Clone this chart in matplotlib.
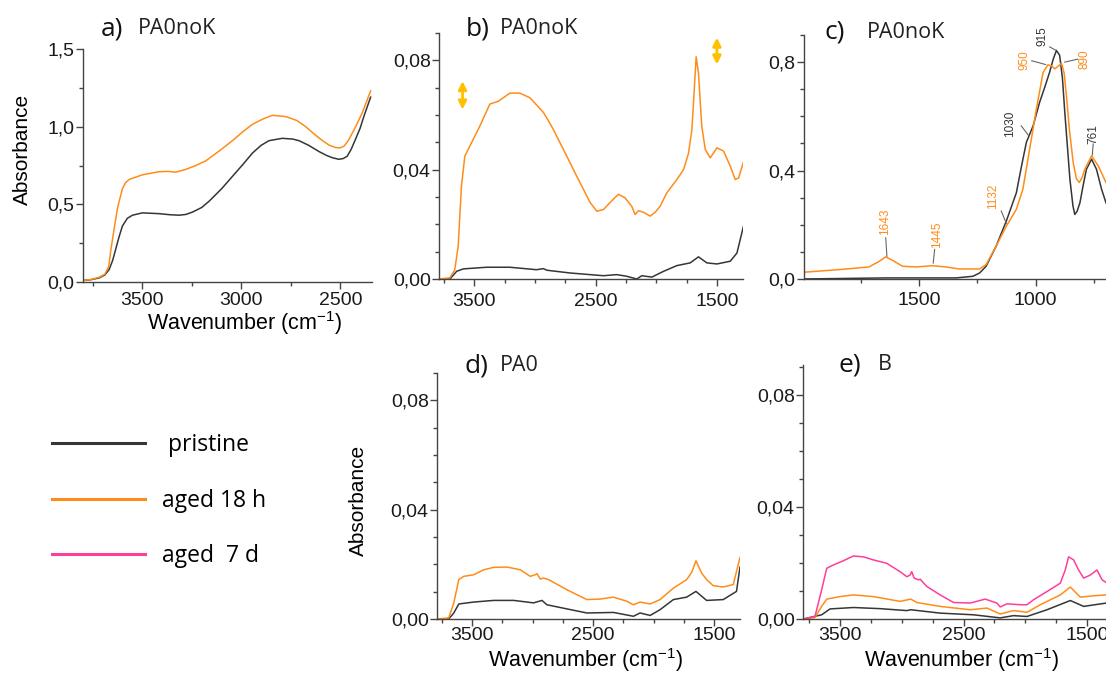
import matplotlib
matplotlib.use("Agg")
from matplotlib import pyplot as plt
from matplotlib.ticker import MultipleLocator, FuncFormatter

# colours
c_pristine = "#363636"
c_18h = "#ff8c1a"
c_7d = "#ff3d9a"
c_arrow = "#ffc000"
c_lead = "#666666"

# ---------------- data ----------------
# a) PA0noK, high wavenumber range
a_wn_pristine = [3803, 3760, 3719, 3690, 3668, 3650, 3635, 3618, 3601, 3576, 3550, 3500, 3416,
                 3360, 3315, 3280, 3247, 3200, 3163, 3100, 3045, 2990, 2944, 2900, 2860, 2793,
                 2740, 2709, 2660, 2608, 2570, 2540, 2508, 2485, 2465, 2445, 2423, 2400, 2380,
                 2347]
a_abs_pristine = [0.01, 0.015, 0.026, 0.045, 0.08, 0.14, 0.21, 0.29, 0.36, 0.41, 0.43, 0.445,
                  0.44, 0.433, 0.43, 0.435, 0.45, 0.48, 0.52, 0.60, 0.68, 0.76, 0.83, 0.88, 0.91,
                  0.925, 0.92, 0.91, 0.88, 0.84, 0.815, 0.80, 0.79, 0.795, 0.81, 0.855, 0.92,
                  0.99, 1.07, 1.19]
a_wn_18h = [3803, 3760, 3719, 3690, 3670, 3660, 3643, 3625, 3601, 3585, 3567, 3500, 3416, 3370,
            3332, 3281, 3230, 3180, 3110, 3045, 2990, 2944, 2890, 2843, 2776, 2720, 2675, 2630,
            2590, 2555, 2522, 2500, 2481, 2460, 2439, 2415, 2389, 2347]
a_abs_18h = [0.01, 0.016, 0.03, 0.05, 0.10, 0.20, 0.34, 0.48, 0.60, 0.64, 0.66, 0.69, 0.71, 0.712,
             0.707, 0.725, 0.75, 0.78, 0.845, 0.91, 0.97, 1.015, 1.05, 1.073, 1.065, 1.04, 1.0,
             0.95, 0.91, 0.88, 0.865, 0.864, 0.875, 0.91, 0.96, 1.02, 1.09, 1.23]

# b) PA0noK, full range
b_wn_pristine = [3792, 3700, 3645, 3590, 3398, 3206, 2986, 2931, 2900, 2710, 2435, 2325, 2243,
                 2160, 2119, 2036, 1940, 1830, 1720, 1652, 1583, 1500, 1390, 1335, 1280]
b_abs_pristine = [0.0, 0.0, 0.0028, 0.0037, 0.0043, 0.0043, 0.0034, 0.0038, 0.0032, 0.0022, 0.0012,
                  0.0016, 0.001, 0.0, 0.0012, 0.0007, 0.0028, 0.0049, 0.0059, 0.0081, 0.0059,
                  0.0055, 0.0065, 0.0095, 0.0195]
b_wn_18h = [3792, 3701, 3660, 3632, 3605, 3577, 3536, 3453, 3371, 3302, 3206, 3123, 3041, 2972,
            2931, 2890, 2848, 2765, 2655, 2545, 2490, 2435, 2380, 2312, 2257, 2202, 2174, 2147,
            2105, 2050, 2009, 1968, 1913, 1830, 1775, 1734, 1706, 1687, 1671, 1652, 1625, 1596,
            1555, 1500, 1445, 1390, 1349, 1321, 1280]
b_abs_18h = [0.0, 0.0004, 0.0034, 0.012, 0.034, 0.045, 0.0486, 0.056, 0.064, 0.065, 0.068, 0.068,
             0.0663, 0.063, 0.061, 0.058, 0.0547, 0.0474, 0.0376, 0.028, 0.0248, 0.0254, 0.028,
             0.031, 0.0297, 0.0266, 0.0236, 0.025, 0.0244, 0.023, 0.0244, 0.0266, 0.0315, 0.0364,
             0.040, 0.046, 0.0547, 0.069, 0.0813, 0.0755, 0.056, 0.0474, 0.0443, 0.048, 0.0468,
             0.0413, 0.0364, 0.037, 0.043]

# c) PA0noK, fingerprint region
c_wn_pristine = [2000, 1644, 1342, 1270, 1241, 1213, 1170, 1126, 1083, 1060, 1040, 1011, 983,
                 960, 940, 925, 911, 897, 885, 875, 853, 840, 832, 822, 810, 795, 782, 760, 739,
                 717, 698]
c_abs_pristine = [0.0, 0.004, 0.004, 0.01, 0.022, 0.047, 0.121, 0.214, 0.318, 0.42, 0.504, 0.565,
                  0.652, 0.71, 0.763, 0.81, 0.843, 0.825, 0.74, 0.615, 0.368, 0.27, 0.238, 0.25,
                  0.281, 0.35, 0.405, 0.442, 0.405, 0.331, 0.281]
c_wn_18h = [2000, 1845, 1716, 1672, 1644, 1615, 1572, 1514, 1443, 1385, 1328, 1241, 1213, 1170,
            1126, 1083, 1055, 1026, 997, 968, 947, 930, 918, 903, 889, 878, 868, 855, 839, 825,
            813, 800, 789, 760, 731, 698]
c_abs_18h = [0.0247, 0.0346, 0.0444, 0.065, 0.0815, 0.069, 0.047, 0.0444, 0.049, 0.0444, 0.037,
             0.037, 0.053, 0.121, 0.195, 0.257, 0.331, 0.479, 0.627, 0.763, 0.79, 0.785, 0.775,
             0.785, 0.796, 0.76, 0.677, 0.55, 0.43, 0.37, 0.356, 0.375, 0.405, 0.454, 0.417,
             0.356]

# peak labels of panel c
c_peak_labels = ["1643", "1445", "1132", "1030", "950", "915", "890", "761"]
c_peak_colors = [c_18h, c_18h, c_18h, c_pristine, c_18h, c_pristine, c_18h, c_pristine]
c_label_x = [1648, 1425, 1181, 1112, 1050, 970, 789, 754]
c_label_y = [0.211, 0.164, 0.306, 0.574, 0.806, 0.896, 0.811, 0.533]
c_lead_from = [(1644, 0.152), (1434, 0.109), (1148, 0.251), (1062, 0.565), (1017, 0.805),
               (940, 0.856), (819, 0.811), (753, 0.498)]
c_lead_to = [(1639, 0.084), (1440, 0.059), (1126, 0.205), (1032, 0.531), (957, 0.791),
             (914, 0.844), (875, 0.800), (757, 0.457)]

# d) PA0
d_wn_pristine = [3789, 3693, 3651, 3610, 3486, 3321, 3156, 2991, 2922, 2881, 2716, 2551, 2331,
                 2166, 2111, 2028, 1946, 1836, 1726, 1649, 1561, 1424, 1314, 1285]
d_abs_pristine = [0.0, 0.0, 0.0022, 0.0055, 0.0062, 0.0068, 0.0068, 0.0059, 0.0068, 0.0052,
                  0.0037, 0.0022, 0.0024, 0.001, 0.0022, 0.0013, 0.0034, 0.0071, 0.008, 0.0101,
                  0.0068, 0.0071, 0.0101, 0.019]
d_wn_18h = [3789, 3693, 3651, 3610, 3569, 3486, 3404, 3321, 3211, 3101, 3019, 2977, 2964, 2936,
            2909, 2867, 2716, 2551, 2441, 2331, 2221, 2166, 2111, 2028, 1946, 1836, 1726, 1684,
            1649, 1602, 1561, 1506, 1424, 1341, 1285]
d_abs_18h = [0.0, 0.0004, 0.0059, 0.0144, 0.0156, 0.0162, 0.018, 0.0189, 0.019, 0.018, 0.0156,
             0.0162, 0.0166, 0.0146, 0.015, 0.0144, 0.0107, 0.0071, 0.0073, 0.008, 0.0065, 0.0052,
             0.0062, 0.0055, 0.0071, 0.0113, 0.0144, 0.0171, 0.0213, 0.0168, 0.0144, 0.0122,
             0.0117, 0.0126, 0.0225]

# e) B
e_wn_pristine = [3797, 3649, 3581, 3392, 3176, 2959, 2927, 2689, 2419, 2203, 2095, 1986, 1824,
                 1635, 1527, 1343]
e_abs_pristine = [0.0, 0.0015, 0.0036, 0.0041, 0.0037, 0.003, 0.0033, 0.0021, 0.0015, 0.0004,
                  0.0012, 0.0009, 0.0033, 0.0066, 0.0045, 0.0057]
e_wn_18h = [3797, 3703, 3649, 3608, 3500, 3392, 3230, 3014, 2927, 2878, 2689, 2446, 2311, 2203,
            2095, 1986, 1878, 1716, 1635, 1554, 1446, 1343]
e_abs_18h = [0.0, 0.0005, 0.0045, 0.0071, 0.008, 0.0086, 0.008, 0.0063, 0.0071, 0.0059, 0.0045,
             0.0033, 0.0039, 0.0018, 0.003, 0.0024, 0.0051, 0.0086, 0.0114, 0.0078, 0.0083, 0.0086]
e_wn_7d = [3797, 3703, 3649, 3608, 3554, 3473, 3392, 3311, 3230, 3122, 3014, 2959, 2932, 2919,
           2900, 2865, 2851, 2797, 2689, 2581, 2446, 2324, 2230, 2203, 2149, 2041, 1986, 1932,
           1824, 1716, 1676, 1649, 1608, 1568, 1527, 1473, 1419, 1378, 1343]
e_abs_7d = [0.0, 0.0009, 0.0104, 0.0181, 0.0193, 0.0208, 0.0225, 0.0222, 0.0211, 0.0199, 0.0169,
            0.0151, 0.0157, 0.0169, 0.0146, 0.014, 0.0142, 0.0116, 0.0086, 0.0059, 0.0057, 0.0071,
            0.0057, 0.0043, 0.0054, 0.0051, 0.0051, 0.0069, 0.0098, 0.0128, 0.0175, 0.0222,
            0.0211, 0.0175, 0.0146, 0.0157, 0.0175, 0.014, 0.013]

# ---------------- figure ----------------
W, H = 1106, 673
plt.rcParams["font.family"] = ["Liberation Sans", "DejaVu Sans"]
plt.rcParams["mathtext.fontset"] = "custom"
plt.rcParams["mathtext.rm"] = "Liberation Sans"
plt.rcParams["mathtext.it"] = "Liberation Sans:italic"
fig = plt.figure(figsize=(W / 100, H / 100), dpi=100)


def px_box(left, top, right, bottom):
    return [left / W, 1 - bottom / H, (right - left) / W, (bottom - top) / H]


def comma(dec):
    return FuncFormatter(lambda v, p: (("%." + str(dec) + "f") % v).replace(".", ","))


def style(ax, xlim, ylim, xmaj, xoff, xmin, ymaj, ymin, ydec, lsize=14):
    ax.set_xlim(*xlim)
    ax.set_ylim(*ylim)
    for s in ["top", "right"]:
        ax.spines[s].set_visible(False)
    for s in ["left", "bottom"]:
        ax.spines[s].set_color("#444444")
        ax.spines[s].set_linewidth(1.0)
    ax.xaxis.set_major_locator(MultipleLocator(xmaj, offset=xoff))
    ax.xaxis.set_minor_locator(MultipleLocator(xmin))
    ax.yaxis.set_major_locator(MultipleLocator(ymaj))
    ax.yaxis.set_minor_locator(MultipleLocator(ymin))
    ax.yaxis.set_major_formatter(comma(ydec))
    ax.tick_params(which="major", direction="out", length=5, width=1, color="#444444",
                   labelsize=lsize, pad=2, labelcolor="#1a1a1a")
    ax.tick_params(which="minor", direction="out", length=3, width=1, color="#444444")
    ax.tick_params(axis="y", pad=1)


lw = 1.1

ax_a = fig.add_axes(px_box(83, 49, 372, 282))
ax_a.plot(a_wn_pristine, a_abs_pristine, color=c_pristine, lw=lw)
ax_a.plot(a_wn_18h, a_abs_18h, color=c_18h, lw=lw)
style(ax_a, (3800, 2340), (0, 1.5), 500, 0, 250, 0.5, 0.25, 1)

ax_b = fig.add_axes(px_box(439, 33, 743, 279))
lp, = ax_b.plot(b_wn_pristine, b_abs_pristine, color=c_pristine, lw=lw)
lo, = ax_b.plot(b_wn_18h, b_abs_18h, color=c_18h, lw=lw)
style(ax_b, (3790, 1285), (0, 0.09), 1000, 500, 250, 0.04, 0.01, 2)
ax_b.tick_params(axis="x", pad=5)
b_arrow_x = [3596, 1500]
b_arrow_y = [(0.062, 0.0724), (0.0785, 0.0883)]
for xa, (y0, y1) in zip(b_arrow_x, b_arrow_y):
    ax_b.annotate("", xy=(xa, y1), xytext=(xa, y0),
                  arrowprops=dict(arrowstyle="<|-|>", color=c_arrow, lw=2,
                                  mutation_scale=12, shrinkA=0, shrinkB=0))

ax_c = fig.add_axes(px_box(804, 35, 1106, 279))
ax_c.plot(c_wn_pristine, c_abs_pristine, color=c_pristine, lw=lw)
ax_c.plot(c_wn_18h, c_abs_18h, color=c_18h, lw=lw)
style(ax_c, (1995, 698), (0, 0.9), 500, 0, 250, 0.4, 0.1, 1)
ax_c.tick_params(axis="x", pad=4)
for lab, col, tx, ty, p0, p1 in zip(c_peak_labels, c_peak_colors, c_label_x, c_label_y,
                                    c_lead_from, c_lead_to):
    ax_c.text(tx, ty, lab, color=col, rotation=90, fontsize=8.5, ha="center", va="center")
    ax_c.plot([p0[0], p1[0]], [p0[1], p1[1]], color=c_lead, lw=0.8)

ax_d = fig.add_axes(px_box(437, 373, 740, 619))
ax_d.plot(d_wn_pristine, d_abs_pristine, color=c_pristine, lw=lw)
ax_d.plot(d_wn_18h, d_abs_18h, color=c_18h, lw=lw)
style(ax_d, (3790, 1285), (0, 0.09), 1000, 500, 250, 0.04, 0.01, 2)
ax_d.tick_params(axis="x", pad=1)

ax_e = fig.add_axes(px_box(803, 365, 1106, 619))
ax_e.plot(e_wn_pristine, e_abs_pristine, color=c_pristine, lw=lw)
ax_e.plot(e_wn_18h, e_abs_18h, color=c_18h, lw=lw)
lm, = ax_e.plot(e_wn_7d, e_abs_7d, color=c_7d, lw=lw)
style(ax_e, (3800, 1346), (0, 0.0907), 1000, 500, 250, 0.04, 0.01, 2)
ax_e.tick_params(axis="x", pad=1)

# panel titles
title_font = ["Open Sans", "DejaVu Sans"]
titles = [("a)", "PA0noK", 101, 138, 29), ("b)", "PA0noK", 466, 500, 29),
          ("c)", "PA0noK", 825, 867, 32), ("d)", "PA0", 464, 500, 366),
          ("e)", "B", 839, 878, 365)]
for lt, name, x1, x2, yc in titles:
    fig.text(x1 / W, 1 - yc / H, lt, fontsize=19, family=title_font, va="center",
             color="#111111")
    fig.text(x2 / W, 1 - yc / H, name, fontsize=15.5, family=title_font, va="center",
             color="#222222")

# axis labels
fig.text(22 / W, 1 - 149 / H, "Absorbance", rotation=90, fontsize=15, ha="center", va="center")
fig.text(358 / W, 1 - 500 / H, "Absorbance", rotation=90, fontsize=15, ha="center", va="center")
xlab = "Wavenumber (cm$^{-1}$)"
fig.text(245 / W, 1 - 323 / H, xlab, fontsize=15.5, ha="center", va="center")
fig.text(586 / W, 1 - 660 / H, xlab, fontsize=15.5, ha="center", va="center")
fig.text(962 / W, 1 - 660 / H, xlab, fontsize=15.5, ha="center", va="center")

# legend
leg = fig.legend([lp, lo, lm], [" pristine", "aged 18 h", "aged  7 d"],
                 loc="upper left", bbox_to_anchor=(52 / W, 1 - 433 / H),
                 frameon=False, borderpad=0, borderaxespad=0, handlelength=4.06,
                 handletextpad=0.74, labelspacing=1.38,
                 prop={"family": title_font, "size": 16.5})
for ln in leg.get_lines():
    ln.set_linewidth(2.2)

fig.savefig("out.png", dpi=100)
